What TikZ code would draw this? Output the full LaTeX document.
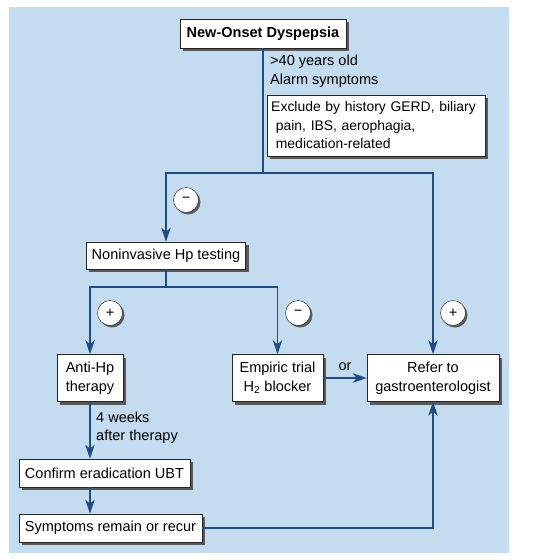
\documentclass[tikz,border=0pt]{standalone}
\usepackage{fontspec}
\setmainfont{Liberation Sans}
\usetikzlibrary{arrows.meta,shadows,calc}
\definecolor{panel}{HTML}{C4DCEF}
\definecolor{flowblue}{HTML}{1C4E85}
\tikzset{
  entry/.style={
    draw=black!85,
    thin,
    fill=white,
    inner sep=0pt,
    align=center,
    drop shadow={shadow xshift=0.09cm, shadow yshift=-0.09cm, fill=black!65, opacity=1}
  },
  sign/.style={
    draw=black!85,
    thin,
    fill=white,
    shape=circle,
    inner sep=0pt,
    minimum size=0.75cm,
    drop shadow={shadow xshift=0.06cm, shadow yshift=-0.06cm, fill=black!65, opacity=1}
  },
  flow/.style={
    draw=flowblue,
    line width=1.7pt
  },
  arrow/.style={
    flow,
    -{Stealth[length=0.42cm,width=0.28cm,inset=0.12cm]}
  },
  note/.style={
    inner sep=0pt,
    align=left
  }
}

\begin{document}
\begin{tikzpicture}[x=0.03cm, y=-0.03cm, font=\fontsize{12.4}{15.8}\selectfont]
        \useasboundingbox (0,0) rectangle (556,560);
        \fill[panel] (9,7) rectangle (509,553);
        % boxes
        \node[entry, minimum width=4.98cm, minimum height=0.87cm] (onset) at (263,33.5) {\textbf{New-Onset Dyspepsia}};
        \node[entry, anchor=west, minimum height=1.83cm, inner xsep=0.12cm, text width=6.3cm, align=left,
              font=\fontsize{11.9}{15.8}\selectfont] (exclude) at (267,125.5)
            {Exclude by history GERD, biliary\\\ pain, IBS, aerophagia,\\\ medication-related};
        \node[entry, minimum width=4.77cm, minimum height=0.81cm] (noninv) at (166,255.5) {Noninvasive Hp testing};
        \node[entry, minimum width=1.98cm, minimum height=1.41cm] (antihp) at (90,378) {Anti-Hp\\therapy};
        \node[entry, minimum width=2.73cm, minimum height=1.41cm] (empiric) at (277.5,378) {Empiric trial\\H\textsubscript{2} blocker};
        \node[entry, minimum width=3.96cm, minimum height=1.41cm] (refer) at (433,378) {Refer to\\gastroenterologist};
        \node[entry, minimum width=5.13cm, minimum height=0.84cm] (confirm) at (104.5,473) {Confirm eradication UBT};
        \node[entry, minimum width=5.49cm, minimum height=0.84cm] (symptoms) at (110.5,528) {Symptoms remain or recur};
        % texts beside the lines
        \node[note, anchor=west] (criteria) at (270,71) {>40 years old\\Alarm symptoms};
        \node[note, anchor=west] (delay) at (96,427.5) {4 weeks\\after therapy};
        % signs
        \node[sign] (signa) at (186,200) {−};
        \node[sign] (signb) at (110,313) {+};
        \node[sign] (signc) at (298,313) {−};
        \node[sign] (signd) at (453,313) {+};
        % connectors
        \coordinate (split) at (263,173);
        \coordinate (fork) at (166,287);
        \draw[flow] (onset.south) -- (split);
        \draw[arrow] (split) -| (noninv.north);
        \draw[arrow] (split) -| (refer.north);
        \draw[flow] (noninv.south) -- (fork);
        \draw[arrow] (fork) -| (antihp.north);
        \draw[arrow] (fork) -| (empiric.north);
        \draw[arrow] (empiric.east) -- (refer.west) node[midway, yshift=0.33cm] (or) {or};
        \draw[arrow] (antihp.south) -- (antihp.south |- confirm.north);
        \draw[arrow] (antihp.south |- confirm.south) -- (antihp.south |- symptoms.north);
        \draw[arrow] (symptoms.east) -| (refer.south);
    \end{tikzpicture}
\end{document}
